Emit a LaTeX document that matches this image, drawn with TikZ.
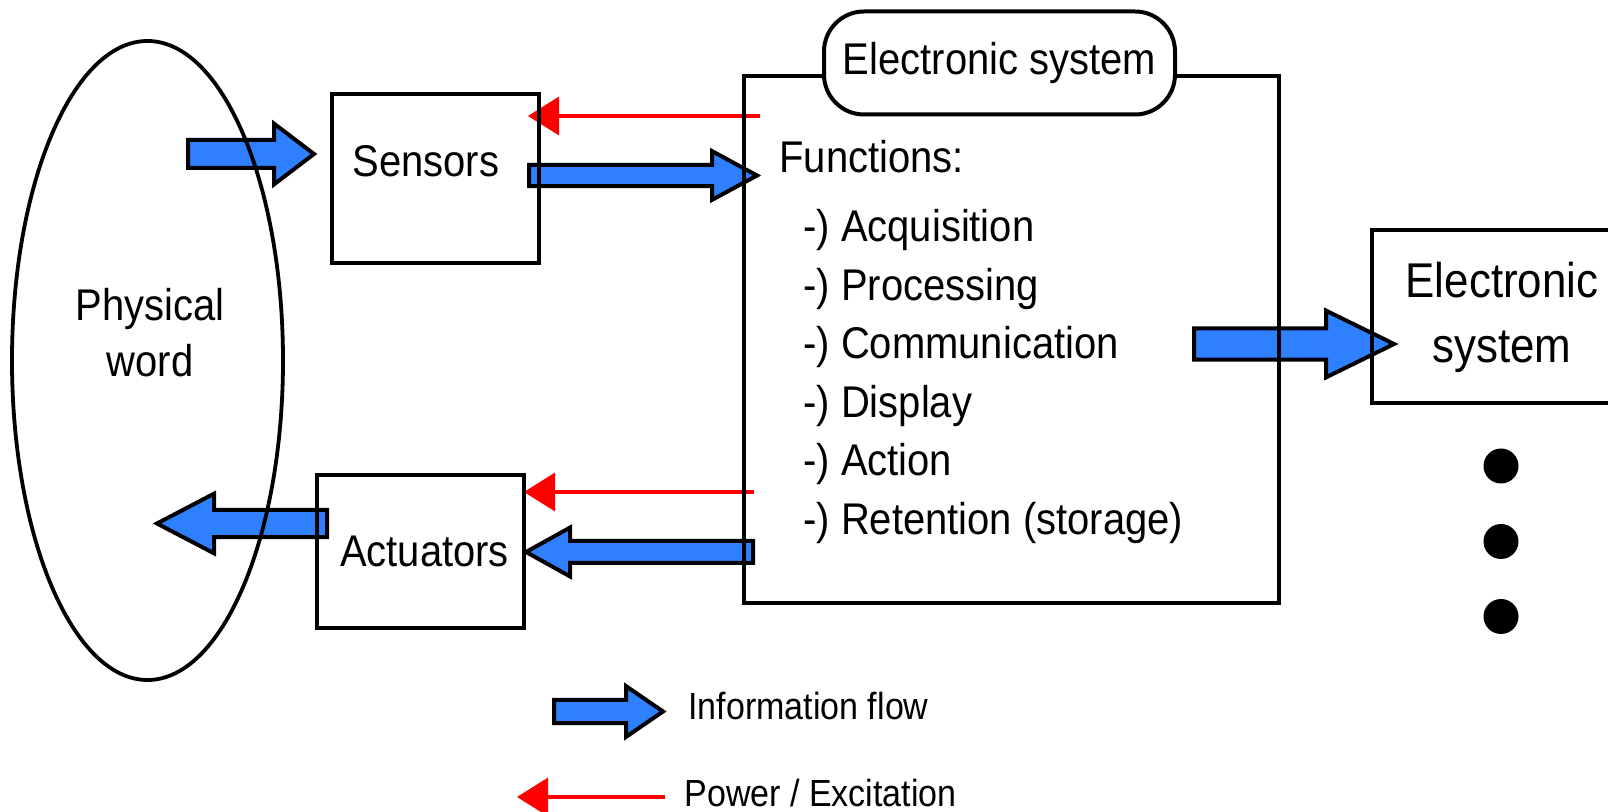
\documentclass[tikz,border=0pt]{standalone}
\usepackage{fontspec}
\setmainfont{Liberation Sans}[FakeStretch=0.9]
\usepackage{xcolor}
\usepackage{tikz}
\usetikzlibrary{calc, shapes, backgrounds, arrows.meta, positioning}
\definecolor{flowblue}{RGB}{46,128,255}
\definecolor{powerred}{RGB}{255,0,0}
\tikzset{
    rectanglenode/.style = {draw, rectangle, line width=2pt, inner sep = 0em, node distance=0em,
      font=\fontsize{22.2pt}{28pt}\selectfont},
    roundnode/.style = {draw, rectangle, line width=2pt, rounded corners=20pt, fill=white,
      inner sep = 0em, font=\fontsize{22.2pt}{28pt}\selectfont},
    ellipsenode/.style = {draw, ellipse, line width=1.9pt, inner sep = 0em, node distance=0em},
    textnode/.style  = {draw=none, fill=none, rectangle, minimum size=0cm, inner sep = 0em,
      node distance=0em, font=\fontsize{22.2pt}{28pt}\selectfont},
    listnode/.style = {textnode, anchor=west, text height=0.72em, text depth=0pt},
    legendnode/.style = {listnode, font=\fontsize{18.9pt}{22pt}\selectfont},
    dotnode/.style = {draw=none, fill=black, circle, minimum size=17.5pt, inner sep = 0em, node distance=0em},
    power/.style = {powerred, line width=1.8pt, -{Triangle[length=15.5pt, width=19pt]}},
    flow/.style args = {#1/#2/#3}{draw=black, fill=flowblue, line width=2pt, line join=miter,
      to path={let \p1=(\tikztostart), \p2=(\tikztotarget),
        \p3=($(\tikztotarget)!#3!(\tikztostart)$) in
        (\x1,\y1-#1) -- (\x3,\y3-#1) -- (\x3,\y3-#2) -- (\x2,\y2)
        -- (\x3,\y3+#2) -- (\x3,\y3+#1) -- (\x1,\y1+#1) -- cycle}},
    every text node part/.style={align=center}
}

\begin{document}
\begin{tikzpicture}[x=0.5pt, y=-0.5pt]
    \useasboundingbox (0,0) rectangle (1608,812);

    % physical side
    \node [name=world, ellipsenode, minimum width=135.5pt, minimum height=319.5pt] at (147.5,360.5) {};
    \node [name=worldtext, textnode] at (150,333) {Physical\\word};

    \node [name=sensors, rectanglenode, minimum width=103.5pt, minimum height=84.5pt] at (435.5,178.5) {};
    \node [name=sensorstext, textnode, above of=sensors, xshift=-4.75pt, yshift=8.75pt] {Sensors};
    \node [name=actuators, rectanglenode, minimum width=103.5pt, minimum height=76.5pt] at (420.5,551.5) {};
    \node [name=actuatorstext, textnode, right of=actuators, xshift=2pt] {Actuators};

    % electronic system and its functions
    \node [name=esys, rectanglenode, minimum width=267.5pt, minimum height=263.5pt] at (1011,340) {};
    \node [name=esystitle, roundnode, minimum width=175.5pt, minimum height=51.5pt] at (999.5,63) {Electronic system};
    \node [name=functions, listnode] at (779,165) {Functions:};
    \node [name=acq, listnode] at (803,234.6) {-) Acquisition};
    \node [name=proc, listnode] at (803,293.1) {-) Processing};
    \node [name=comm, listnode] at (803,351.5) {-) Communication};
    \node [name=disp, listnode] at (803,410) {-) Display};
    \node [name=act, listnode] at (803,468.4) {-) Action};
    \node [name=ret, listnode] at (803,526.9) {-) Retention (storage)};

    % next system in the chain
    \node [name=nextsys, rectanglenode, minimum width=130pt, minimum height=86.5pt,
      font=\fontsize{24.4pt}{32.5pt}\selectfont] at (1502,317) {Electronic\\system};
    \node [name=dot1, dotnode] at (1501,466) {};
    \node [name=dot2, dotnode, below of=dot1, yshift=-37.75pt] {};
    \node [name=dot3, dotnode, below of=dot2, yshift=-37.5pt] {};

    % legend
    \node [name=infolabel, legendnode] at (688,712) {Information flow};
    \node [name=powerlabel, legendnode] at (684,799) {Power / Excitation};

    % arrow end points
    \coordinate (in1) at (188,154);      \coordinate (in2) at (314,154);
    \coordinate (sen1) at (529,175.5);   \coordinate (sen2) at (757,175.5);
    \coordinate (out1) at (1194,344);    \coordinate (out2) at (1394,344);
    \coordinate (act1) at (327,523.5);   \coordinate (act2) at (157,523.5);
    \coordinate (cmd1) at (753,552);     \coordinate (cmd2) at (526,552);
    \coordinate (leg1) at (554,711.5);   \coordinate (leg2) at (663,711.5);
    \coordinate (pw1) at (760,116);      \coordinate (pw2) at (528,116);
    \coordinate (pa1) at (754,492);      \coordinate (pa2) at (524,492);
    \coordinate (pl1) at (665,797);      \coordinate (pl2) at (517,797);

    \begin{scope}[on background layer]
        \path [flow=7pt/15.2pt/20pt] (in1) to (in2);
        \path [flow=5.3pt/12.2pt/22.5pt] (sen1) to (sen2);
        \path [flow=7.8pt/16.7pt/34pt] (out1) to (out2);
        \path [flow=6.8pt/14.9pt/28.5pt] (act1) to (act2);
        \path [flow=5.5pt/12.2pt/22pt] (cmd1) to (cmd2);
        \path [flow=5.8pt/12.7pt/18.5pt] (leg1) to (leg2);

        \draw [power] (pw1) -- (pw2);
        \draw [power] (pa1) -- (pa2);
        \draw [power] (pl1) -- (pl2);
    \end{scope}
\end{tikzpicture}
\end{document}
